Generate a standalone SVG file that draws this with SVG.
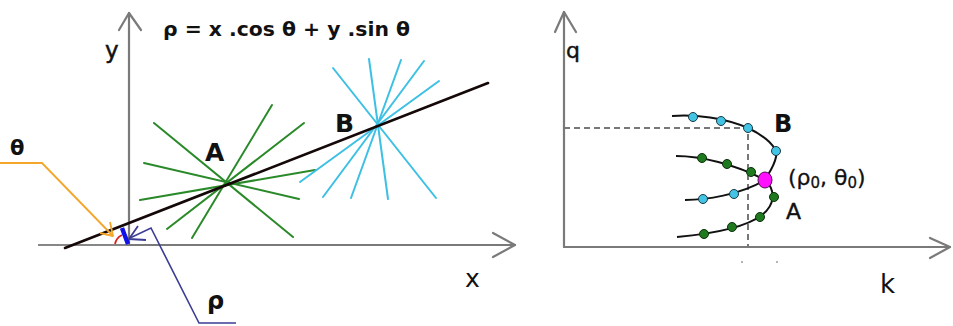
<svg xmlns="http://www.w3.org/2000/svg" width="953" height="326" viewBox="0 0 953 326">
<style>
.ax{stroke:#7a7a7a;stroke-width:2.2;fill:none;stroke-linecap:round;stroke-linejoin:round}
.gl{stroke:#2a8a2a;stroke-width:2;stroke-linecap:round}
.cl{stroke:#3cc0e4;stroke-width:2;stroke-linecap:round}
.t{font-family:"DejaVu Sans",Verdana,sans-serif;fill:#111}
.b{font-weight:bold}
.crv{fill:none;stroke:#111;stroke-width:2}
.dc{fill:#44c4e4;stroke:#1a3a44;stroke-width:1}
.dg{fill:#1f7a1f;stroke:#0c300c;stroke-width:1}
.dash{stroke:#777;stroke-width:2;stroke-dasharray:6 4;fill:none}
</style>
<rect width="953" height="326" fill="#fff"/>
<g id="left-axes">
<line x1="38" y1="245" x2="128" y2="245" stroke="#111" stroke-width="1.2"/>
<line class="ax" x1="128" y1="245" x2="515" y2="245"/>
<polyline class="ax" points="493,233 515,245 493,257"/>
<line class="ax" x1="129" y1="245" x2="129" y2="13"/>
<polyline class="ax" points="119,30 129,13 141,30"/>
<text class="t" x="105" y="58" font-size="23" stroke="#111" stroke-width="0.5">y</text>
<text class="t" x="465" y="287" font-size="25">x</text>
</g>
<text id="formula" class="t b" x="163" y="36" font-size="20" textLength="247" lengthAdjust="spacingAndGlyphs">ρ = x .cos θ + y .sin θ</text>
<g id="pencil-A">
<line class="gl" x1="154" y1="123" x2="293" y2="237"/>
<line class="gl" x1="272" y1="105" x2="192" y2="238" stroke-width="1.5"/>
<line class="gl" x1="304" y1="123" x2="167" y2="229"/>
<line class="gl" x1="144" y1="163" x2="299" y2="199"/>
<line class="gl" x1="140" y1="200" x2="315" y2="170"/>
</g>
<g id="pencil-B">
<line class="cl" x1="333" y1="68" x2="436" y2="198"/>
<line class="cl" x1="369" y1="59" x2="388" y2="199"/>
<line class="cl" x1="401" y1="60" x2="351" y2="198"/>
<line class="cl" x1="424" y1="61" x2="323" y2="197"/>
<line class="cl" x1="439" y1="81" x2="300" y2="182"/>
</g>
<g id="line">
<line x1="65" y1="248" x2="488" y2="83" stroke="#140808" stroke-width="2.6" stroke-linecap="round"/>
</g>
<g id="labels-left">
<text class="t b" x="205" y="161" font-size="25">A</text>
<text class="t b" x="335" y="132" font-size="25">B</text>
<text class="t b" x="10" y="155" font-size="21">θ</text>
<text class="t b" x="207" y="309" font-size="24">ρ</text>
</g>
<g id="origin-marks">
<path d="M115,244 Q116,238 122,235" fill="none" stroke="#e0201a" stroke-width="1.8"/>
<line x1="128" y1="244" x2="122" y2="228" stroke="#1010e8" stroke-width="4.5"/>
</g>
<g id="connectors">
<polyline points="0,163 42,163 113,236" fill="none" stroke="#f4a62a" stroke-width="1.8"/>
<polyline points="110,222 113,236 100,233" fill="none" stroke="#f4a62a" stroke-width="1.8" stroke-linejoin="round"/>
<polyline points="236,323 199,323 151,228 130,238" fill="none" stroke="#3c3c96" stroke-width="1.6"/>
<polyline points="138,226 129,239 146,240" fill="none" stroke="#3c3c96" stroke-width="1.8" stroke-linejoin="round"/>
</g>
<g id="right-axes">
<line class="ax" x1="564" y1="247" x2="950" y2="247"/>
<polyline class="ax" points="930,238 950,247 930,258"/>
<line class="ax" x1="564" y1="247" x2="564" y2="12"/>
<polyline class="ax" points="555,32 564,12 576,32"/>
<text class="t" x="566" y="58" font-size="22" stroke="#111" stroke-width="0.4">q</text>
<text class="t" x="880" y="293" font-size="26">k</text>
<circle cx="742" cy="262" r="0.8" fill="#555"/>
<circle cx="777" cy="262" r="0.8" fill="#555"/>
</g>
<g id="dashes">
<polyline class="dash" points="564,128 748,128 748,247"/>
</g>
<g id="curve-B">
<path class="crv" d="M672,116 C695,114 725,118 748,128 C765,136 778,147 776,157 C774,167 768,174 765,180"/>
<path class="crv" d="M685,200 C705,200 740,195 765,180"/>
</g>
<g id="curve-A">
<path class="crv" d="M676,156 C700,156 735,164 765,180"/>
<path class="crv" d="M677,237 C710,234 745,228 762,215 C775,205 776,190 765,180"/>
</g>
<g id="dots">
<circle class="dc" cx="693" cy="117" r="4.5"/>
<circle class="dc" cx="721" cy="121" r="4.5"/>
<circle class="dc" cx="748" cy="128" r="4.5"/>
<circle class="dc" cx="776" cy="151" r="4.5"/>
<circle class="dc" cx="703" cy="199" r="4.5"/>
<circle class="dc" cx="734" cy="194" r="4.5"/>
<circle class="dg" cx="702" cy="158" r="4.5"/>
<circle class="dg" cx="727" cy="164" r="4.5"/>
<circle class="dg" cx="751" cy="172" r="4.5"/>
<circle class="dg" cx="704" cy="234" r="4.5"/>
<circle class="dg" cx="732" cy="227" r="4.5"/>
<circle class="dg" cx="760" cy="217" r="4.5"/>
<circle class="dg" cx="774" cy="197" r="4.5"/>
<ellipse id="rho0-theta0" cx="765" cy="180" rx="7" ry="8" fill="#ff10ff" stroke="#501050" stroke-width="1"/>
</g>
<g id="labels-right">
<text class="t b" x="774" y="132" font-size="24">B</text>
<text class="t" x="786" y="219" font-size="22" stroke="#111" stroke-width="0.4">A</text>
<text class="t" x="788" y="185" font-size="22" stroke="#111" stroke-width="0.3">(ρ<tspan font-size="15" dy="3">0</tspan><tspan dy="-3">, θ</tspan><tspan font-size="15" dy="3">0</tspan><tspan dy="-3">)</tspan></text>
</g>
</svg>
